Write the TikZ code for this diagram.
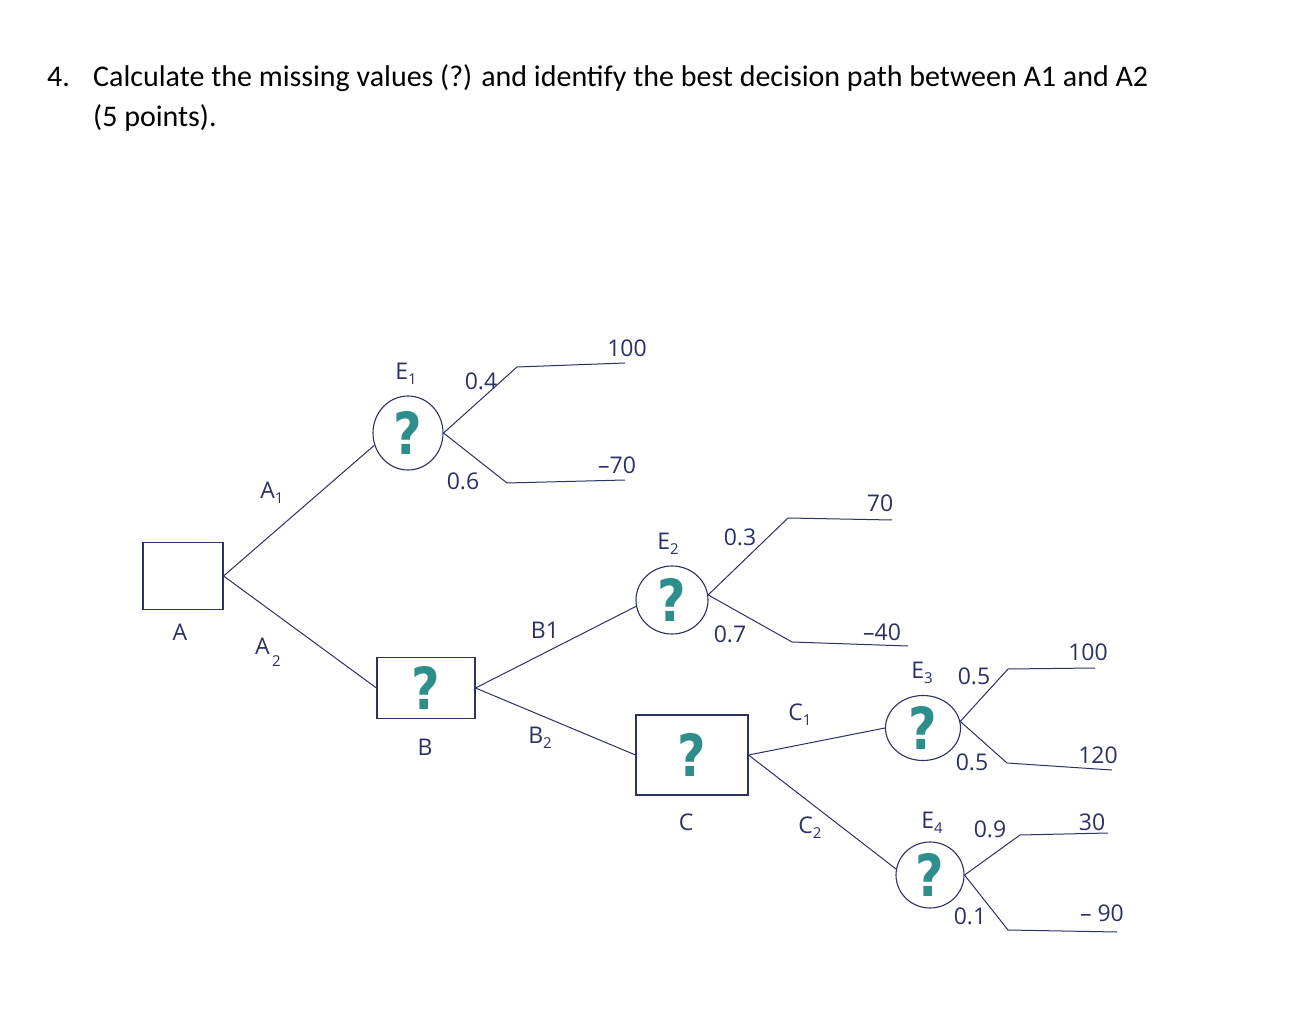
\documentclass[tikz,border=0pt]{standalone}
\usepackage{fontspec}
\usetikzlibrary{shapes.geometric}
\setmainfont{Carlito}
\newfontfamily\handfont{Open Sans}
\newfontfamily\qfont{DejaVu Sans}
\definecolor{ink}{HTML}{2B3163}
\definecolor{teal2}{HTML}{2E8E8C}
\newcommand{\lowsub}[1]{\raisebox{-5pt}{\fontsize{15}{15}\selectfont #1}}
\newcommand{\qmark}{\scalebox{0.85}[1]{?}}
\begin{document}
\begin{tikzpicture}[x=1pt,y=-1pt,
  ln/.style={draw=ink, line width=1pt},
  hand/.style={text=ink, font=\handfont\fontsize{23}{25}\selectfont, inner sep=0pt},
  qm/.style={text=teal2, font=\qfont\bfseries\fontsize{58}{58}\selectfont, inner sep=0pt},
  chance/.style={draw=ink, line width=1.1pt, ellipse, minimum width=#1, minimum height=68pt, inner sep=0pt},
  chance/.default=72pt,
  dec/.style={draw=ink, line width=1.1pt, rectangle, inner sep=0pt},
  ttl/.style={anchor=base west, inner sep=0pt, font=\fontsize{30}{36}\selectfont}
]
\useasboundingbox (0,0) rectangle (1294,1032);
% title
\node[ttl] (t1) at (47,87) {4.};
\node[ttl] (t2) at (93,87) {Calculate the missing values (?) and identify the best decision path between A1 and A2};
\node[ttl] (t3) at (93,127) {(5 points).};

% nodes
\node[dec, minimum width=80pt, minimum height=67pt] (A) at (183,576) {};
\node[hand] (lA) at (180,632) {A};
\node[dec, minimum width=98pt, minimum height=61pt] (B) at (426,688) {};
\node[qm] (qB) at (B) {\qmark};
\node[hand] (lB) at (425,747) {B};
\node[dec, minimum width=112pt, minimum height=80pt] (C) at (692,755) {};
\node[qm] (qC) at (C) {\qmark};
\node[hand] (lC) at (686,822) {C};

\node[chance=70pt, minimum height=74pt] (E1) at (408,433) {};
\node[qm] (qE1) at (E1) {\qmark};
\node[hand] (lE1) at (406,374) {E\lowsub{1}};
\node[chance=72pt] (E2) at (672,600) {};
\node[qm] (qE2) at (E2) {\qmark};
\node[hand] (lE2) at (668,544) {E\lowsub{2}};
\node[chance=75pt, minimum height=65pt] (E3) at (923,728) {};
\node[qm] (qE3) at (E3) {\qmark};
\node[hand] (lE3) at (922,673) {E\lowsub{3}};
\node[chance=68pt, minimum height=66pt] (E4) at (930,875) {};
\node[qm] (qE4) at (E4) {\qmark};
\node[hand] (lE4) at (932,823) {E\lowsub{4}};

% main connectors
\draw[ln] (A.east) -- (E1.200);
\draw[ln] (A.east) -- (B.west);
\draw[ln] (B.east) -- (E2.190);
\draw[ln] (B.east) -- (C.west);
\draw[ln] (C.east) -- (E3.west);
\draw[ln] (C.east) -- (E4.170);
\node[hand] (lA1) at (272,493) {A\lowsub{1}};
\node[hand] (lA2) at (268,652) {A\raisebox{-12pt}{\fontsize{15}{15}\selectfont\,2}};
\node[hand] (lB1) at (545,630) {B1};
\node[hand] (lB2) at (540,738) {B\lowsub{2}};
\node[hand] (lC1) at (800,715) {C\lowsub{1}};
\node[hand] (lC2) at (810,828) {C\lowsub{2}};

% E1 branches
\coordinate (e1u) at (517,367); \coordinate (e1ue) at (625,363);
\coordinate (e1d) at (507,483); \coordinate (e1de) at (625,480);
\draw[ln] (E1.east) -- (e1u) -- (e1ue);
\draw[ln] (E1.east) -- (e1d) -- (e1de);
\node[hand] (v1) at (627,348) {100};
\node[hand] (v2) at (617,465) {–70};
\node[hand] (p1) at (481,381) {0.4};
\node[hand] (p2) at (463,481) {0.6};

% E2 branches
\coordinate (e2u) at (788,518); \coordinate (e2ue) at (892,520);
\coordinate (e2d) at (792,642); \coordinate (e2de) at (908,646);
\draw[ln] (E2.8) -- (e2u) -- (e2ue);
\draw[ln] (E2.8) -- (e2d) -- (e2de);
\node[hand] (v3) at (880,503) {70};
\node[hand] (v4) at (882,632) {–40};
\node[hand] (p3) at (740,537) {0.3};
\node[hand] (p4) at (730,634) {0.7};

% E3 branches
\coordinate (e3u) at (1008,669); \coordinate (e3ue) at (1095,668);
\coordinate (e3d) at (1007,763); \coordinate (e3de) at (1112,770);
\draw[ln] (E3.10) -- (e3u) -- (e3ue);
\draw[ln] (E3.10) -- (e3d) -- (e3de);
\node[hand] (v5) at (1088,652) {100};
\node[hand] (v6) at (1098,755) {120};
\node[hand] (p5) at (974,676) {0.5};
\node[hand] (p6) at (972,762) {0.5};

% E4 branches
\coordinate (e4u) at (1020,835); \coordinate (e4ue) at (1108,833);
\coordinate (e4d) at (1008,930); \coordinate (e4de) at (1117,932);
\draw[ln] (E4.east) -- (e4u) -- (e4ue);
\draw[ln] (E4.east) -- (e4d) -- (e4de);
\node[hand] (v7) at (1092,822) {30};
\node[hand] (v8) at (1102,913) {– 90};
\node[hand] (p7) at (990,829) {0.9};
\node[hand] (p8) at (970,916) {0.1};
\end{tikzpicture}
\end{document}
